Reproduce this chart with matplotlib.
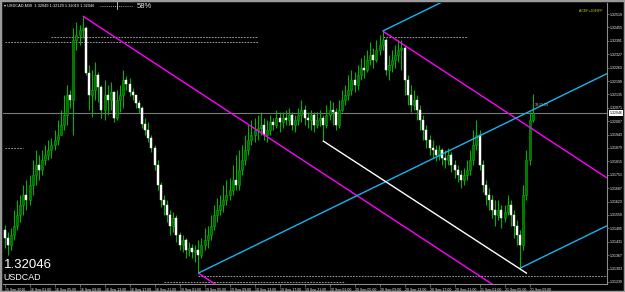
#!/usr/bin/env python3
"""USDCAD M30 chart with two Andrews pitchforks, MetaTrader style."""

import matplotlib
matplotlib.use("Agg")
import matplotlib.pyplot as plt
import matplotlib.transforms as mtrans
from matplotlib.lines import Line2D
from matplotlib.patches import Rectangle

W, H = 625, 292

# one value per M30 bar, bar 0 = 15 Sep 21:00, open = previous close
first_open = 1.31487
close = [
    1.31448, 1.31415, 1.31463, 1.31505, 1.31558, 1.31606, 1.31654, 1.31630, 1.31702, 1.31750,
    1.31797, 1.31773, 1.31821, 1.31845, 1.31869, 1.31893, 1.31917, 1.31941, 1.31989, 1.32036,
    1.32132, 1.32108, 1.32395, 1.32419, 1.32443, 1.32452, 1.32237, 1.32132, 1.32156, 1.32228,
    1.32170, 1.32060, 1.32132, 1.32108, 1.32146, 1.32022, 1.32108, 1.32132, 1.32204, 1.32184,
    1.32146, 1.32132, 1.32094, 1.32070, 1.31993, 1.31965, 1.31926, 1.31879, 1.31797, 1.31702,
    1.31630, 1.31606, 1.31558, 1.31505, 1.31544, 1.31463, 1.31415, 1.31439, 1.31391, 1.31401,
    1.31381, 1.31391, 1.31367, 1.31415, 1.31439, 1.31463, 1.31505, 1.31558, 1.31582, 1.31606,
    1.31630, 1.31654, 1.31678, 1.31726, 1.31702, 1.31773, 1.31821, 1.31869, 1.31917, 1.31941,
    1.31965, 1.31974, 1.31989, 1.31941, 1.31965, 1.32003, 1.31989, 1.32022, 1.32003, 1.32022,
    1.32012, 1.32036, 1.31989, 1.32012, 1.32036, 1.32060, 1.32022, 1.32012, 1.32036, 1.31989,
    1.32012, 1.32022, 1.31989, 1.32036, 1.32060, 1.32051, 1.31989, 1.32060, 1.32108, 1.32132,
    1.32156, 1.32204, 1.32180, 1.32228, 1.32261, 1.32251, 1.32299, 1.32323, 1.32299, 1.32347,
    1.32371, 1.32395, 1.32251, 1.32275, 1.32299, 1.32323, 1.32347, 1.32357, 1.32204, 1.32132,
    1.32084, 1.32108, 1.32060, 1.32012, 1.31965, 1.31917, 1.31879, 1.31869, 1.31845, 1.31869,
    1.31831, 1.31821, 1.31845, 1.31797, 1.31773, 1.31750, 1.31726, 1.31750, 1.31773, 1.31821,
    1.31893, 1.31941, 1.31797, 1.31702, 1.31654, 1.31630, 1.31582, 1.31558, 1.31582, 1.31544,
    1.31573, 1.31606, 1.31558, 1.31505, 1.31463, 1.31415, 1.31654, 1.31821, 1.32012, 1.32046,
]
high = [
    1.31511, 1.31477, 1.31496, 1.31582, 1.31630, 1.31654, 1.31702, 1.31726, 1.31750, 1.31821,
    1.31869, 1.31845, 1.31869, 1.31893, 1.31917, 1.31926, 1.31965, 1.32012, 1.32060, 1.32132,
    1.32180, 1.32156, 1.32452, 1.32481, 1.32465, 1.32510, 1.32462, 1.32275, 1.32251, 1.32290,
    1.32242, 1.32180, 1.32204, 1.32180, 1.32194, 1.32146, 1.32156, 1.32180, 1.32251, 1.32223,
    1.32213, 1.32165, 1.32132, 1.32108, 1.32079, 1.32022, 1.32003, 1.31941, 1.31893, 1.31821,
    1.31716, 1.31654, 1.31630, 1.31582, 1.31573, 1.31558, 1.31477, 1.31463, 1.31448, 1.31429,
    1.31420, 1.31415, 1.31439, 1.31448, 1.31496, 1.31505, 1.31558, 1.31606, 1.31640, 1.31654,
    1.31702, 1.31726, 1.31735, 1.31797, 1.31845, 1.31869, 1.31893, 1.31941, 1.31989, 1.32012,
    1.32022, 1.32036, 1.32051, 1.32022, 1.32012, 1.32036, 1.32022, 1.32060, 1.32051, 1.32051,
    1.32060, 1.32070, 1.32051, 1.32036, 1.32070, 1.32108, 1.32084, 1.32051, 1.32060, 1.32051,
    1.32051, 1.32060, 1.32036, 1.32084, 1.32108, 1.32098, 1.32070, 1.32108, 1.32156, 1.32180,
    1.32228, 1.32251, 1.32242, 1.32275, 1.32309, 1.32323, 1.32347, 1.32385, 1.32357, 1.32395,
    1.32419, 1.32438, 1.32404, 1.32323, 1.32347, 1.32371, 1.32395, 1.32395, 1.32371, 1.32228,
    1.32180, 1.32156, 1.32132, 1.32084, 1.32036, 1.31989, 1.31941, 1.31917, 1.31893, 1.31893,
    1.31879, 1.31869, 1.31879, 1.31859, 1.31821, 1.31797, 1.31773, 1.31783, 1.31821, 1.31869,
    1.31965, 1.32012, 1.31965, 1.31821, 1.31726, 1.31687, 1.31654, 1.31630, 1.31630, 1.31606,
    1.31606, 1.31654, 1.31630, 1.31582, 1.31534, 1.31487, 1.31702, 1.31869, 1.32051, 1.32137,
]
low = [
    1.31401, 1.31367, 1.31391, 1.31439, 1.31487, 1.31525, 1.31558, 1.31582, 1.31606, 1.31654,
    1.31702, 1.31726, 1.31750, 1.31797, 1.31821, 1.31831, 1.31869, 1.31893, 1.31941, 1.31965,
    1.31989, 1.32070, 1.31941, 1.32347, 1.32371, 1.32404, 1.32228, 1.32060, 1.32027, 1.32108,
    1.32098, 1.32022, 1.32012, 1.32036, 1.32060, 1.32003, 1.32012, 1.32051, 1.32070, 1.32156,
    1.32127, 1.32108, 1.32070, 1.32046, 1.31974, 1.31941, 1.31907, 1.31859, 1.31773, 1.31678,
    1.31597, 1.31558, 1.31525, 1.31463, 1.31477, 1.31429, 1.31391, 1.31381, 1.31353, 1.31362,
    1.31353, 1.31334, 1.31281, 1.31353, 1.31391, 1.31401, 1.31439, 1.31487, 1.31525, 1.31558,
    1.31573, 1.31606, 1.31630, 1.31654, 1.31678, 1.31678, 1.31750, 1.31797, 1.31845, 1.31893,
    1.31907, 1.31917, 1.31941, 1.31917, 1.31907, 1.31941, 1.31965, 1.31974, 1.31955, 1.31974,
    1.31989, 1.31989, 1.31965, 1.31955, 1.31989, 1.32003, 1.31989, 1.31974, 1.31965, 1.31955,
    1.31974, 1.31984, 1.31917, 1.31974, 1.32012, 1.31989, 1.31965, 1.31974, 1.32051, 1.32084,
    1.32108, 1.32132, 1.32146, 1.32156, 1.32204, 1.32213, 1.32242, 1.32275, 1.32261, 1.32290,
    1.32323, 1.32347, 1.32228, 1.32204, 1.32242, 1.32261, 1.32290, 1.32251, 1.32132, 1.32084,
    1.32051, 1.32060, 1.32012, 1.31965, 1.31917, 1.31879, 1.31845, 1.31831, 1.31816, 1.31821,
    1.31797, 1.31783, 1.31797, 1.31764, 1.31735, 1.31716, 1.31687, 1.31702, 1.31726, 1.31750,
    1.31797, 1.31869, 1.31773, 1.31668, 1.31606, 1.31582, 1.31544, 1.31505, 1.31534, 1.31496,
    1.31525, 1.31558, 1.31505, 1.31448, 1.31415, 1.31305, 1.31391, 1.31630, 1.31797, 1.32003,
]

time_labels = [
    "15 Sep 2016", "16 Sep 01:00", "16 Sep 05:00", "16 Sep 09:00", "16 Sep 13:00",
    "16 Sep 17:00", "16 Sep 21:00", "19 Sep 01:00", "19 Sep 05:00", "19 Sep 09:00",
    "19 Sep 13:00", "19 Sep 17:00", "19 Sep 21:00", "20 Sep 01:00", "20 Sep 05:00",
    "20 Sep 09:00", "20 Sep 13:00", "20 Sep 17:00", "20 Sep 21:00", "21 Sep 01:00",
    "21 Sep 05:00", "21 Sep 09:00",
]
bars_per_label = 8

price_ticks = [
    1.32519, 1.32455, 1.32391, 1.32327, 1.32263, 1.32199, 1.32135, 1.32071, 1.32007,
    1.31943, 1.31879, 1.31815, 1.31751, 1.31687, 1.31623, 1.31559, 1.31495, 1.31431,
    1.31367, 1.31303, 1.31239,
]
last_price = 1.32046
header = "\u25be USDCAD,M30  1.32049 1.32129 1.32019 1.32046"

# pitchfork anchors (bar, price)
magenta_fork = [(25, high[25]), (62, low[62]), (121, high[121])]
cyan_fork = [(62, low[62]), (121, high[121]), (165, low[165])]
white_line = [(102, 1.31912), (167, 1.31281)]
# dotted price levels: price, first bar, last bar (None = right edge)
levels = [
    (1.32409, 15, 81), (1.32385, 0, 81), (1.32409, 121, 148),
    (1.31879, 0, 6), (1.31267, 62, None), (1.31238, 51, 109),
]

FAMILY = ["Liberation Sans", "DejaVu Sans"]
SMALL = dict(family=FAMILY, size=2.5)


def draw_pitchfork(ax, pts, color, x_end):
    (x1, y1), (x2, y2), (x3, y3) = pts
    mx, my = (x2 + x3) / 2, (y2 + y3) / 2
    slope = (my - y1) / (mx - x1)
    for x0, y0 in pts:
        ax.plot([x0, x_end], [y0, y0 + slope * (x_end - x0)], color=color, lw=1.0,
                solid_capstyle="butt", zorder=4)


def main():
    fig = plt.figure(figsize=(W / 100, H / 100), dpi=100, facecolor="black")
    ax = fig.add_axes([3 / W, (H - 284) / H, 604 / W, 281 / H], facecolor="black")
    x_max = -0.5 + 604 / 3.125
    ax.set_xlim(-0.5, x_max)
    ax.set_ylim(1.31229, 1.32572)

    n = len(close)
    opens = [first_open] + close[:-1]
    xs = list(range(n))
    ax.vlines(xs, low, high, color="#00b400", lw=0.8, zorder=2)
    for i in xs:
        o, c = opens[i], close[i]
        bottom, height = min(o, c), max(abs(c - o), 0.00002)
        if c >= o:
            ax.bar(i, height, bottom=bottom, width=0.62, color="#007000",
                   edgecolor="#00b400", lw=0.4, zorder=3)
        else:
            ax.bar(i, height, bottom=bottom, width=0.62, color="white",
                   edgecolor="white", lw=0.3, zorder=3)

    ax.axhline(last_price, color="#7a7a7a", lw=0.8, zorder=1.5)

    for price, b0, b1 in levels:
        ax.hlines(price, b0, x_max if b1 is None else b1, colors="#b4b4b4",
                  linestyles=(0, (2, 1.5)), lw=0.6, zorder=1)

    draw_pitchfork(ax, magenta_fork, "#ff00ff", x_max)
    draw_pitchfork(ax, cyan_fork, "#18b4f0", x_max)
    (wx0, wy0), (wx1, wy1) = white_line
    ax.plot([wx0, wx1], [wy0, wy1], color="white", lw=1.0, zorder=4)

    # axes look
    for side in ("top", "left"):
        ax.spines[side].set_visible(False)
    for side in ("right", "bottom"):
        ax.spines[side].set_color("#8c8c8c")
        ax.spines[side].set_linewidth(0.8)

    ax.yaxis.tick_right()
    ax.set_yticks(price_ticks)
    ax.set_yticklabels([f"{p:.5f}" for p in price_ticks], fontdict=SMALL)
    ax.tick_params(axis="y", colors="#8c8c8c", labelcolor="white",
                   length=1.5, width=0.5, pad=0.8)

    ax.set_xticks(range(0, bars_per_label * len(time_labels), bars_per_label))
    ax.set_xticklabels(time_labels, fontdict=SMALL)
    ax.tick_params(axis="x", colors="#8c8c8c", labelcolor="white",
                   length=2, width=0.5, pad=0.6)
    for t in ax.get_xticklabels():
        t.set_ha("left")

    trans = mtrans.blended_transform_factory(ax.transAxes, ax.transData)
    ax.text(1.004, last_price, f"{last_price:.5f}", transform=trans, color="black",
            va="center", ha="left", clip_on=False, fontdict=SMALL,
            bbox=dict(boxstyle="square,pad=0.2", fc="white", ec="none"))

    # overlay texts
    fig.text(4 / W, 1 - 7 / H, header, fontsize=2.8, family=FAMILY,
             color="white", va="baseline")
    fig.add_artist(Line2D([100 / W, 133 / W], [1 - 5.5 / H] * 2, transform=fig.transFigure,
                          color="#d0d0d0", lw=0.6, linestyle=(0, (1, 1.5))))
    fig.add_artist(Line2D([117 / W] * 2, [1 - 2 / H, 1 - 9 / H], transform=fig.transFigure,
                          color="#d0d0d0", lw=0.6))
    fig.text(137 / W, 1 - 8.5 / H, "58%", fontsize=5.5, color="#e6e6e6",
             family=FAMILY, va="baseline")
    fig.text(604 / W, 1 - 12 / H, "A-CEF+2049FF", color="#d4d400",
             ha="right", va="baseline", fontdict=SMALL)
    fig.text(535 / W, 1 - 106 / H, "10:13:19", color="#c8c8c8",
             va="baseline", fontdict=SMALL)
    fig.text(4 / W, 1 - 268 / H, f"{last_price:.5f}", fontsize=9.5, color="white",
             family=FAMILY, va="baseline")
    fig.text(3 / W, 1 - 279.5 / H, "USDCAD", fontsize=6.4, color="white",
             family=FAMILY, va="baseline")

    fig.add_artist(Rectangle((0, 0), 1, 1, transform=fig.transFigure, fill=False,
                             ec="#9a9a9a", lw=2.5))

    fig.savefig("out.png", dpi=100, facecolor="black")


if __name__ == "__main__":
    main()
